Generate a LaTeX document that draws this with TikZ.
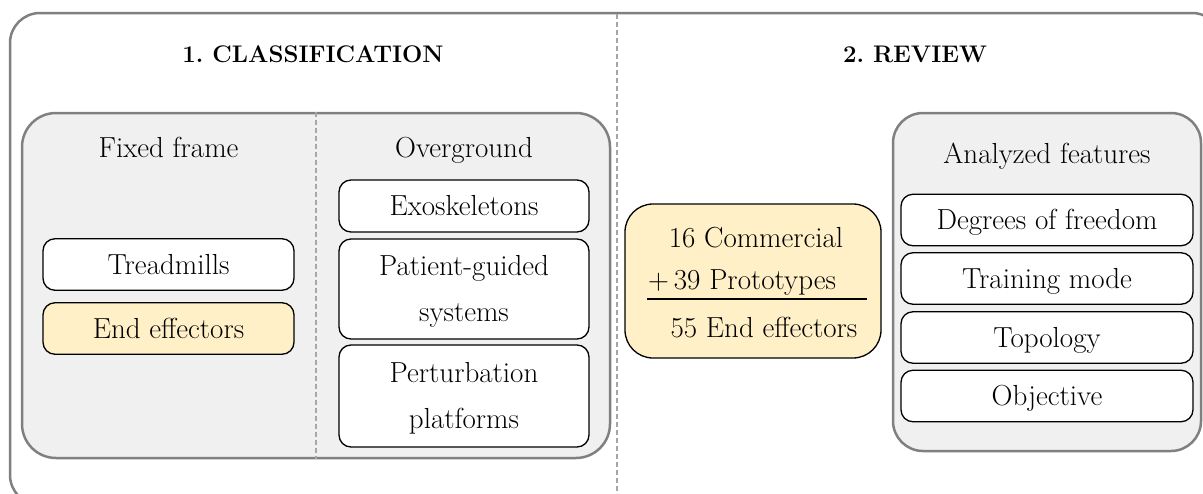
\documentclass[tikz,border=0pt]{standalone}
\definecolor{panelgray}{HTML}{F0F0F0}
\definecolor{bordgray}{HTML}{808080}
\definecolor{dashgray}{HTML}{A6A6A6}
\definecolor{peach}{HTML}{FFF0C8}
\begin{document}
\begin{tikzpicture}[x=1pt,y=-1pt,
  txt/.style={font=\fontsize{29}{46}\selectfont, inner sep=0pt, align=center, text height=19.8pt, text depth=0pt},
  twoline/.style={text height=65.8pt, text depth=0pt},
  titletxt/.style={txt, font=\fontsize{24}{30}\selectfont\bfseries},
  panel/.style={draw=bordgray, line width=2.5pt, fill=panelgray, rounded corners=34pt, inner sep=0pt},
  itembox/.style={txt, draw=black, line width=1.3pt, fill=white, rounded corners=12pt, minimum height=51.5pt},
  leftbox/.style={itembox, minimum width=251pt},
  rightbox/.style={itembox, minimum width=292pt},
  dashline/.style={draw=dashgray, line width=1.2pt, dash pattern=on 5pt off 3pt}
]
\useasboundingbox (0,0) rectangle (1203,493);

% outer frame
\node[draw=bordgray, line width=2.5pt, rounded corners=30pt, minimum width=1212pt, minimum height=492pt, inner sep=0pt] (outer) at (616,259) {};
\coordinate (dtop) at (617,14);
\coordinate (dbot) at (617,493);
\draw[dashline] (dtop) -- (dbot);

% titles
\node[titletxt] (t1) at (313,53) {1.\ CLASSIFICATION};
\node[titletxt] (t2) at (915,53) {2.\ REVIEW};

% left panel
\node[panel, minimum width=588pt, minimum height=345pt] (lpanel) at (316,285.5) {};
\draw[dashline] (lpanel.north) -- (lpanel.south);

\node[txt] (fixed) at (168.5,148) {Fixed frame};
\node[txt] (over) at (464,148) {Overground};

\node[leftbox] (tread) at (168.5,264.5) {Treadmills};
\node[leftbox, fill=peach] (endeff) at (168.5,328.5) {End effectors};

\node[itembox, minimum width=250pt, minimum height=52pt] (exo) at (464,206) {Exoskeletons};
\node[itembox, twoline, minimum width=250pt, minimum height=100pt] (patient) at (464,289) {Patient-guided\\systems};
\node[itembox, twoline, minimum width=250pt, minimum height=102pt] (pert) at (464,396) {Perturbation\\platforms};

% middle summary box
\node[draw=black, line width=1.3pt, fill=peach, rounded corners=28pt, minimum width=256pt, minimum height=154pt, inner sep=0pt] (sum) at (753,281) {};
\node[txt, anchor=base] (comm) at (756,247) {16 Commercial};
\node[txt, anchor=base west] (proto) at (648,289) {+\,39 Prototypes};
\node[txt, anchor=base] (total) at (764,337) {55 End effectors};
\coordinate (rulea) at (647,299);
\coordinate (ruleb) at (867,299);
\draw[line width=1.3pt] (rulea) -- (ruleb);

% right panel
\node[panel, rounded corners=30pt, minimum width=308pt, minimum height=338pt] (rpanel) at (1047,282) {};
\node[txt] (feat) at (1047,154) {Analyzed features};
\node[rightbox] (dof) at (1047,220) {Degrees of freedom};
\node[rightbox] (train) at (1047,278.5) {Training mode};
\node[rightbox] (topo) at (1047,337.5) {Topology};
\node[rightbox] (obj) at (1047,396) {Objective};
\end{tikzpicture}
\end{document}
